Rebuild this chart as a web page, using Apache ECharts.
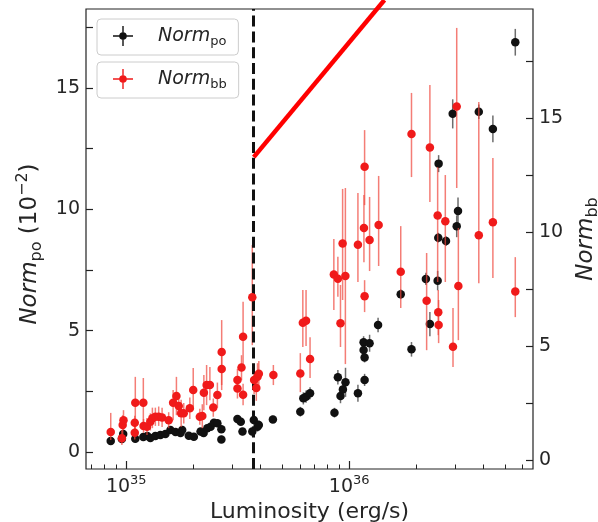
<!DOCTYPE html>
<html><head><meta charset="utf-8">
<script src="https://cdn.jsdelivr.net/npm/echarts@6/dist/echarts.min.js"></script>
<style>html,body{margin:0;padding:0;background:#fff}#c{width:598px;height:522px}</style>
</head><body><div id="c"></div>
<script>
// Luminosity in units of 1e35 erg/s
const blackLum = [0.852,0.956,0.969,1.098,1.193,1.243,1.283,1.351,1.423,1.499,1.578,1.663,1.751,1.782,1.908,2.010,2.154,2.223,2.309,2.390,2.474,2.563,2.671,2.671,3.153,3.263,3.321,3.675,3.733,3.879,3.932,4.547,6.035,6.226,6.403,6.673,8.586,8.894,9.137,9.367,9.623,10.94,11.60,12.34,11.60,11.72,11.72,13.47,17.02,19.02,22.07,23.00,24.92,25.08,27.16,25.17,30.34,30.75,29.11,38.11,44.08,55.55];
const blackNorm = [0.45,0.54,0.74,0.55,0.62,0.66,0.58,0.66,0.70,0.74,0.91,0.82,0.78,0.91,0.67,0.63,0.84,0.78,0.98,1.04,1.21,1.18,0.94,0.52,1.36,1.25,0.84,0.84,1.32,1.04,1.11,1.34,1.66,2.21,2.28,2.42,1.62,3.08,2.31,2.58,2.87,2.42,4.52,4.48,4.20,3.89,2.97,5.23,6.50,4.23,7.13,5.27,7.06,8.83,8.69,11.88,9.30,9.93,13.93,14.02,13.31,16.88];
const blackErr = [0.15,0.15,0.15,0.15,0.15,0.15,0.15,0.15,0.15,0.15,0.15,0.15,0.15,0.15,0.15,0.15,0.15,0.15,0.15,0.15,0.15,0.15,0.15,0.15,0.15,0.15,0.15,0.2,0.2,0.2,0.2,0.15,0.2,0.25,0.25,0.25,0.2,0.3,0.3,0.4,0.6,0.35,0.25,0.35,0.2,0.2,0.25,0.3,0.2,0.3,0.25,0.5,0.4,0.2,0.2,0.35,0.45,0.55,0.6,0.3,0.55,0.55];

const redLum = [0.852,0.956,0.964,0.972,1.092,1.092,1.098,1.193,1.196,1.239,1.283,1.310,1.351,1.398,1.448,1.550,1.623,1.679,1.720,1.763,1.811,1.928,1.997,2.138,2.193,2.229,2.293,2.372,2.457,2.563,2.679,2.679,3.153,3.153,3.288,3.342,3.342,3.675,3.745,3.831,3.879,3.932,4.569,6.035,6.193,6.403,6.673,8.531,8.894,9.137,9.34,9.61,10.94,11.64,11.72,11.72,12.34,13.55,17.02,19.02,22.24,23.00,24.92,25.08,25.17,26.97,29.20,30.34,30.86,38.11,44.08,55.55];
const redNorm = [1.23,0.96,1.54,1.75,1.20,1.64,2.51,2.51,1.50,1.46,1.68,1.84,1.90,1.90,1.87,1.75,2.51,2.81,2.37,2.05,2.05,2.27,3.07,1.90,1.93,2.95,3.29,3.29,2.31,2.85,4.74,4.00,3.51,3.14,4.06,5.41,2.87,7.14,3.51,3.16,3.65,3.79,3.73,3.80,6.02,6.11,4.43,8.14,7.95,6.00,9.50,8.07,9.44,10.18,12.86,7.19,9.65,10.31,8.26,14.30,6.99,13.71,10.73,6.48,5.92,10.47,4.97,15.50,7.63,9.86,10.43,7.39];
const redLow = [0.88,0.66,1.10,1.32,0.90,1.35,1.32,1.32,1.20,1.10,1.30,1.40,1.50,1.50,1.45,1.40,1.75,1.97,1.90,1.45,1.60,1.80,2.19,1.55,1.40,2.19,2.41,2.63,1.90,2.30,3.29,3.07,3.00,2.70,3.50,3.95,2.40,5.04,2.90,2.60,3.10,3.20,3.29,2.98,4.96,5.00,3.60,6.58,7.16,4.96,7.02,4.21,7.81,8.68,11.18,6.49,8.29,8.51,6.67,12.41,4.82,11.32,7.81,5.48,5.13,7.81,4.08,11.93,5.26,7.76,7.98,6.27];
const redHigh = [2.07,1.32,1.97,2.19,1.50,1.95,3.65,3.60,1.80,1.85,2.05,2.30,2.30,2.35,2.30,2.10,3.07,3.65,2.85,2.65,2.50,2.75,4.04,2.25,2.45,3.73,4.17,4.08,2.70,3.40,6.14,4.82,4.00,3.60,4.60,6.94,3.35,9.43,4.10,3.70,4.25,4.35,4.17,4.69,7.46,7.46,5.39,9.69,8.92,7.68,11.89,11.93,11.71,11.62,14.47,7.89,11.54,12.46,10.26,16.10,9.08,16.45,12.85,7.46,7.02,12.50,6.67,18.95,10.18,15.70,13.25,8.90];

const xRange = [0.66, 66.7];
const xMajor = [1, 10];
const xMinor = [0.7,0.8,0.9,2,3,4,5,6,7,8,9,20,30,40,50,60];
const leftRange = [-0.70, 18.25];
const leftTicks = [0,2.5,5,7.5,10,12.5,15,17.5];
const leftLabels = [0,5,10,15];
const rightRange = [-0.39, 19.78];
const rightTicks = [0,2.5,5,7.5,10,12.5,15,17.5];
const rightLabels = [0,5,10,15];
const dashedLum = 3.70;
const arrowLum = [3.73, 14.38];
const arrowNorm = [12.15, 18.62];

const lg = Math.log10;
const FONT = 'DejaVu Sans';
const TXT = '#262626';

const blackPts = blackLum.map((l,i)=>[lg(l), blackNorm[i]]);
const blackBars = blackLum.map((l,i)=>[lg(l), blackNorm[i]-blackErr[i], blackNorm[i]+blackErr[i]]);
const redPts = redLum.map((l,i)=>[lg(l), redNorm[i]]);
const redBars = redLum.map((l,i)=>[lg(l), redLow[i], redHigh[i]]);

function barRender(color){
  return function(params, api){
    const a = api.coord([api.value(0), api.value(1)]);
    const b = api.coord([api.value(0), api.value(2)]);
    return {type:'line', shape:{x1:a[0],y1:a[1],x2:b[0],y2:b[1]}, style:{stroke:color, lineWidth:1.5}};
  };
}

const iconPath = 'path://M0,9.3H20V10.7H0Z M9.3,0H10.7V20H9.3Z M6.2,10A3.8,3.8 0 1 1 13.8,10A3.8,3.8 0 1 1 6.2,10Z';
const legendRich = {
  i:{fontFamily:FONT, fontStyle:'italic', fontSize:19, color:TXT, lineHeight:24, padding:[0,0,0,20]},
  s:{fontFamily:FONT, fontSize:13, color:TXT, lineHeight:12, verticalAlign:'bottom'}
};
function legendCfg(name, top){
  return {
    data:[name], left:97, top:top, orient:'vertical',
    itemWidth:20, itemHeight:20, icon:iconPath,
    padding:[7,12,7,16], borderColor:'#cccccc', borderWidth:1, borderRadius:4,
    backgroundColor:'rgba(255,255,255,0.85)',
    formatter: n => '{i|Norm}{s|' + (n==='Norm_po'?'po':'bb') + '}',
    textStyle:{rich:legendRich}
  };
}

const xCommon = {
  type:'value', min:lg(xRange[0]), max:lg(xRange[1]), splitLine:{show:false},
  axisLine:{show:false, onZero:false}, position:'bottom'
};

const option = {
  animation:false,
  grid:{left:86, right:65, top:9, bottom:53, show:true, borderColor:'#222', borderWidth:1.2,
        backgroundColor:'transparent', containLabel:false, outerBoundsMode:'none'},
  legend:[legendCfg('Norm_po', 19), legendCfg('Norm_bb', 62)],
  xAxis:[
    Object.assign({}, xCommon, {
      name:'Luminosity (erg/s)', nameLocation:'middle', nameGap:22,
      nameTextStyle:{fontFamily:FONT, fontSize:22, color:TXT},
      axisTick:{inside:true, length:8, lineStyle:{color:'#222', width:1.2}, customValues: xMajor.map(lg)},
      axisLabel:{customValues: xMajor.map(lg), margin:5,
        formatter: v => '{b|10}{p|' + Math.round(35+v) + '}',
        rich:{b:{fontFamily:FONT, fontSize:19, color:TXT, lineHeight:26}, p:{fontFamily:FONT, fontSize:13, color:TXT, lineHeight:13, verticalAlign:'top'}}}
    }),
    Object.assign({}, xCommon, {
      axisTick:{inside:true, length:4.5, lineStyle:{color:'#222', width:1}, customValues: xMinor.map(lg)},
      axisLabel:{show:false}
    })
  ],
  yAxis:[
    {type:'value', position:'left', min:leftRange[0], max:leftRange[1], splitLine:{show:false}, axisLine:{show:false, onZero:false},
     axisTick:{inside:true, length:7, lineStyle:{color:'#222', width:1.2}, customValues:leftTicks},
     axisLabel:{customValues:leftLabels, margin:6, fontFamily:FONT, fontSize:19, color:TXT},
     name:'{i|Norm}{s|po}{n| (10}{p|−2}{n|)}', nameLocation:'middle', nameRotate:90, nameGap:37,
     nameTextStyle:{padding:[0,10,0,0], rich:{
       i:{fontFamily:FONT, fontStyle:'italic', fontSize:23, color:TXT, lineHeight:30},
       n:{fontFamily:FONT, fontSize:23, color:TXT, lineHeight:30},
       s:{fontFamily:FONT, fontSize:16, color:TXT, lineHeight:15, verticalAlign:'bottom'},
       p:{fontFamily:FONT, fontSize:16, color:TXT, lineHeight:15, verticalAlign:'top'}}}
    },
    {type:'value', position:'right', min:rightRange[0], max:rightRange[1], splitLine:{show:false}, axisLine:{show:false, onZero:false},
     axisTick:{inside:true, length:7, lineStyle:{color:'#222', width:1.2}, customValues:rightTicks},
     axisLabel:{customValues:rightLabels, margin:6, fontFamily:FONT, fontSize:19, color:TXT},
     name:'{i|Norm}{s|bb}', nameLocation:'middle', nameRotate:90, nameGap:37,
     nameTextStyle:{rich:{
       i:{fontFamily:FONT, fontStyle:'italic', fontSize:23, color:TXT, lineHeight:30},
       s:{fontFamily:FONT, fontSize:16, color:TXT, lineHeight:15, verticalAlign:'bottom'}}}
    }
  ],
  series:[
    {type:'custom', name:'blackBars', xAxisIndex:0, yAxisIndex:0, renderItem:barRender('rgba(60,60,60,0.75)'),
     encode:{x:0, y:[1,2]}, data:blackBars, silent:true, z:2},
    {type:'scatter', name:'Norm_po', xAxisIndex:0, yAxisIndex:0, data:blackPts, symbolSize:8.5,
     itemStyle:{color:'#111', opacity:1}, z:3,
     markLine:{silent:true, symbol:['none','none'], label:{show:false},
       lineStyle:{color:'#111', width:3, type:[11,4.8]}, data:[{xAxis: lg(dashedLum)}]}},
    {type:'custom', name:'redBars', xAxisIndex:0, yAxisIndex:1, renderItem:barRender('rgba(240,70,60,0.7)'),
     encode:{x:0, y:[1,2]}, data:redBars, silent:true, z:4},
    {type:'scatter', name:'Norm_bb', xAxisIndex:0, yAxisIndex:1, data:redPts, symbolSize:8.5,
     itemStyle:{color:'#f01a1a', opacity:1}, z:5},
    {type:'line', name:'arrow', xAxisIndex:0, yAxisIndex:0, clip:false, showSymbol:false, symbol:'none',
     data: arrowLum.map((l,i)=>[lg(l), arrowNorm[i]]), lineStyle:{color:'#ff0000', width:4.5, cap:'butt'}, z:10, silent:true}
  ]
};
const chart = echarts.init(document.getElementById('c'), null, {renderer:'canvas'});
chart.setOption(option);
</script></body></html>
